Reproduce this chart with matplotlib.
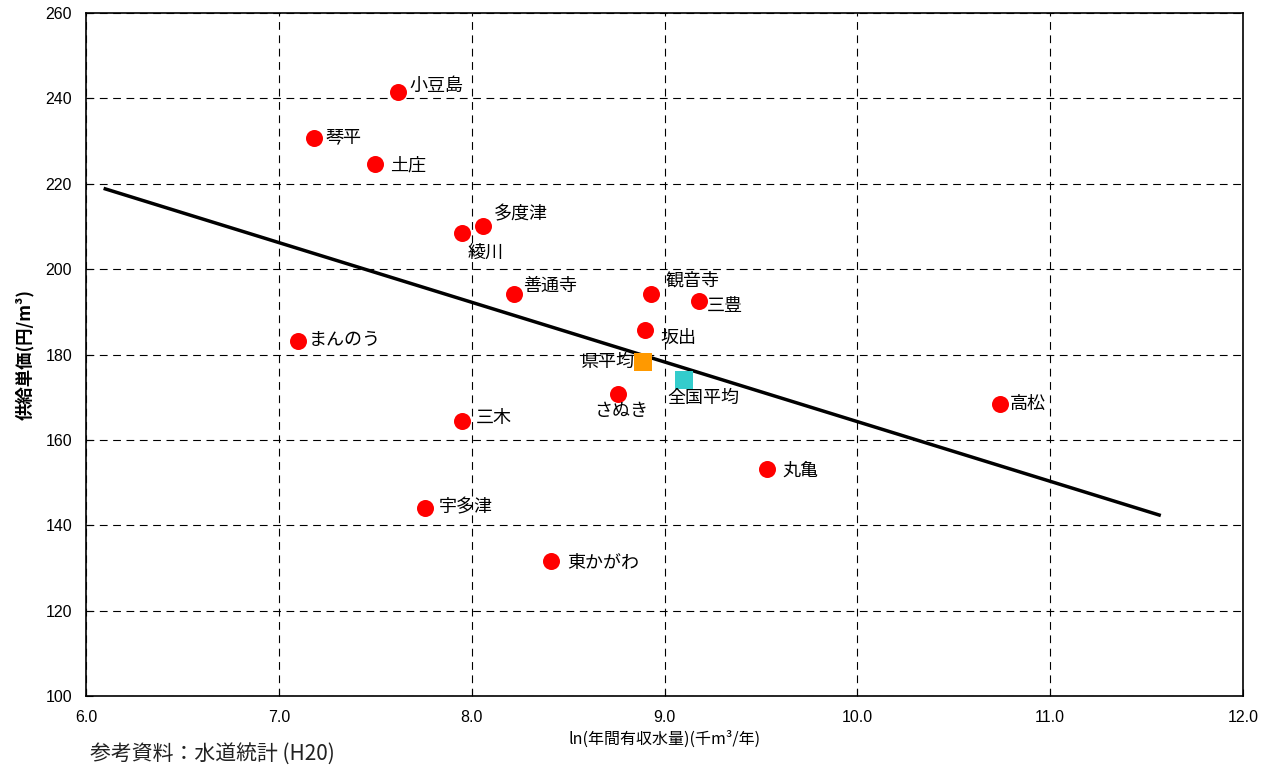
import matplotlib
matplotlib.use("Agg")
import matplotlib.pyplot as plt
from matplotlib.ticker import MultipleLocator, FormatStrFormatter

plt.rcParams['font.family'] = ['Noto Sans CJK JP', 'DejaVu Sans']

# 各事業体: ln(年間有収水量) と 供給単価
names = ['小豆島', '琴平', '土庄', '多度津', '綾川', '善通寺', '観音寺', '三豊', '坂出',
         'まんのう', 'さぬき', '三木', '高松', '丸亀', '宇多津', '東かがわ']
ln_vol = [7.62, 7.18, 7.50, 8.06, 7.95, 8.22, 8.93, 9.18, 8.90,
          7.10, 8.76, 7.95, 10.74, 9.53, 7.76, 8.41]
price = [241.5, 230.7, 224.6, 210.1, 208.5, 194.2, 194.2, 192.6, 185.8,
         183.2, 170.8, 164.5, 168.4, 153.2, 144.1, 131.7]

pref_avg = (8.89, 178.3)
natl_avg = (9.10, 174.1)

# 近似直線の両端
trend_x = [6.10, 11.565]
trend_y = [218.8, 142.4]

# ラベル位置 (pixel offset from marker)
offsets = {
    '小豆島': (11, 6), '琴平': (12, 1), '土庄': (15, -1), '多度津': (11, 12),
    '綾川': (6, -20), '善通寺': (9, 8), '観音寺': (14, 13), '三豊': (8, -5),
    '坂出': (15, -8), 'まんのう': (11, 1), 'さぬき': (-24, -17), '三木': (14, 3),
    '高松': (10, 0), '丸亀': (16, -2), '宇多津': (13, 0), '東かがわ': (16, -2),
}

fig = plt.figure(figsize=(12.74, 7.69), dpi=100)
ax = fig.add_axes([0.0675, 0.0949, 0.9082, 0.8882])

ax.plot(trend_x, trend_y, color='black', lw=2.5, zorder=3)
ax.scatter(ln_vol, price, s=150, color='#FF0000', zorder=4, linewidths=0)
ax.scatter([pref_avg[0]], [pref_avg[1]], s=150, marker='s', color='#FF9900', zorder=4, linewidths=0)
ax.scatter([natl_avg[0]], [natl_avg[1]], s=150, marker='s', color='#33CCCC', zorder=4, linewidths=0)

for n, x, y in zip(names, ln_vol, price):
    dx, dy = offsets[n]
    ax.annotate(n, (x, y), xytext=(dx, dy), textcoords='offset pixels',
                fontsize=13, ha='left', va='center', zorder=5)
ax.annotate('県平均', pref_avg, xytext=(-9, 0), textcoords='offset pixels',
            fontsize=13, ha='right', va='center', zorder=5)
ax.annotate('全国平均', natl_avg, xytext=(-16, -18), textcoords='offset pixels',
            fontsize=13, ha='left', va='center', zorder=5)

ax.set_xlim(6.0, 12.0)
ax.set_ylim(100, 260)
ax.xaxis.set_major_locator(MultipleLocator(1.0))
ax.xaxis.set_major_formatter(FormatStrFormatter('%.1f'))
ax.yaxis.set_major_locator(MultipleLocator(20))
ax.tick_params(direction='in', length=5, labelsize=11.5, pad=10)
for lbl in ax.get_xticklabels() + ax.get_yticklabels():
    lbl.set_family('Liberation Sans')
ax.grid(True, color='black', linestyle=(0, (7, 5)), lw=0.8)
for s in ax.spines.values():
    s.set_linewidth(1.2)

ax.set_xlabel('ln(年間有収水量)(千m³/年)', fontsize=11.5, labelpad=4)
ax.set_ylabel('供給単価(円/m³)', fontsize=12.5, fontweight='bold', labelpad=8)

fig.text(0.071, 0.012, '参考資料：水道統計 (H20)', fontsize=15, color='#222222')

fig.savefig('out.png', dpi=100)
